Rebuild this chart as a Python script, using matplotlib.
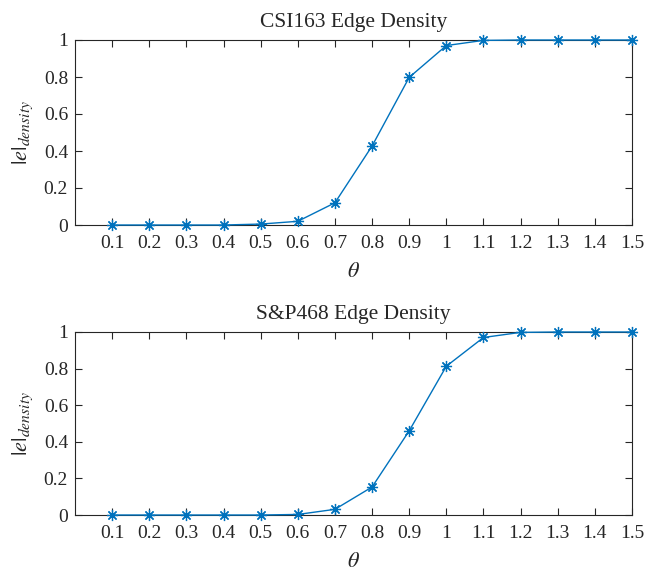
"""
Edge density versus threshold theta for the CSI163 and S&P468 networks.
"""

import numpy as np
import matplotlib
matplotlib.use("Agg")
import matplotlib.pyplot as plt

theta = [0.1, 0.2, 0.3, 0.4, 0.5, 0.6, 0.7, 0.8, 0.9, 1.0, 1.1, 1.2, 1.3, 1.4, 1.5]
x_tick_labels = ["0.1", "0.2", "0.3", "0.4", "0.5", "0.6", "0.7", "0.8",
                 "0.9", "1", "1.1", "1.2", "1.3", "1.4", "1.5"]
y_ticks = [0, 0.2, 0.4, 0.6, 0.8, 1.0]
y_tick_labels = ["0", "0.2", "0.4", "0.6", "0.8", "1"]

csi163_density = [0.0, 0.0, 0.0, 0.0, 0.005, 0.02, 0.12, 0.427, 0.798, 0.97,
                  0.998, 1.0, 1.0, 1.0, 1.0]
sp468_density = [0.0, 0.0, 0.0, 0.0, 0.0, 0.003, 0.031, 0.153, 0.46, 0.813,
                 0.97, 0.998, 1.0, 1.0, 1.0]

titles = ["CSI163 Edge Density", "S&P468 Edge Density"]
series = [csi163_density, sp468_density]

plt.rcParams["font.family"] = ["Liberation Serif", "DejaVu Serif"]
plt.rcParams["mathtext.fontset"] = "stix"

line_color = "#0072BD"
text_color = "#262626"
asterisk = (8, 2, 0)

fig = plt.figure(figsize=(6.46, 5.74), dpi=100)
# axes rectangles in figure fractions: [left, bottom, width, height]
rects = [[75 / 646, 1 - 225 / 574, 557 / 646, 185 / 574],
         [75 / 646, 1 - 515 / 574, 557 / 646, 183 / 574]]

for rect, title, values in zip(rects, titles, series):
    ax = fig.add_axes(rect)
    ax.plot(theta, values, color=line_color, linewidth=1.0,
            marker=asterisk, markersize=8, markeredgewidth=0.9,
            markeredgecolor=line_color, clip_on=False, zorder=3)
    ax.set_xlim(0, 1.5)
    ax.set_ylim(0, 1)
    ax.set_xticks(theta)
    ax.set_xticklabels(x_tick_labels)
    ax.set_yticks(y_ticks)
    ax.set_yticklabels(y_tick_labels)
    ax.tick_params(direction="in", top=True, right=True, length=5,
                   width=0.8, labelsize=14, colors=text_color,
                   labelcolor=text_color)
    ax.tick_params(axis="x", pad=7)
    ax.tick_params(axis="y", pad=5)
    for spine in ax.spines.values():
        spine.set_color(text_color)
        spine.set_linewidth(0.8)
    ax.set_title(title, fontsize=15.5, color=text_color, pad=9)
    ax.set_xlabel(r"$\theta$", fontsize=16, color=text_color, labelpad=8)
    ax.set_ylabel(r"$|e|_{density}$", fontsize=16, color=text_color, labelpad=6)

fig.savefig("out.png", dpi=100)
plt.close(fig)
